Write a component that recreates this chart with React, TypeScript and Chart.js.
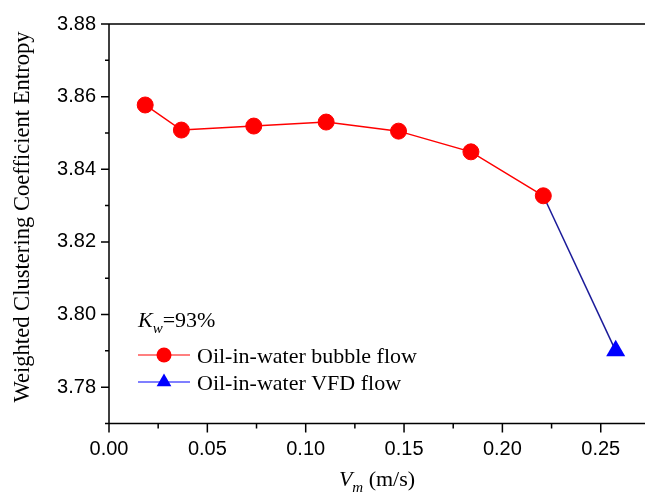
import React, { useEffect, useRef } from "react";
import { Chart, registerables } from "chart.js";

Chart.register(...registerables);

// Mixture velocity Vm (m/s) and weighted clustering coefficient entropy
const bubbleVm = [0.0184, 0.0368, 0.0736, 0.1104, 0.1472, 0.184, 0.2208];
const bubbleEntropy = [3.8577, 3.8508, 3.8519, 3.853, 3.8505, 3.8448, 3.8327];
const vfdVm = [0.2576];
const vfdEntropy = [3.79];

const xTicks = [0, 0.05, 0.1, 0.15, 0.2, 0.25];
const xMinorTicks = [0.025, 0.075, 0.125, 0.175, 0.225];
const yTicks = [3.78, 3.8, 3.82, 3.84, 3.86, 3.88];
const yMinorTicks = [3.77, 3.79, 3.81, 3.83, 3.85, 3.87];

const X_MIN = 0;
const X_MAX = 0.2725;
const Y_MIN = 3.77;
const Y_MAX = 3.88;

const bubbleLabel = "Oil-in-water bubble flow";
const vfdLabel = "Oil-in-water VFD flow";

const RED = "#ff0000";
const BLUE = "#0000ff";
const NAVY = "#1a1a99";
const SERIF = '"Liberation Serif", "Times New Roman", serif';
const SANS = '"Liberation Sans", Arial, sans-serif';

const framePlugin = {
  id: "frame",
  beforeDatasetsDraw(chart: any) {
    const { ctx, chartArea, scales } = chart;
    const { left, right, top, bottom } = chartArea;
    const x = scales.x;
    const y = scales.y;
    ctx.save();
    ctx.strokeStyle = "#000";
    ctx.lineWidth = 1.5;
    ctx.lineCap = "butt";
    ctx.beginPath();
    ctx.moveTo(left, top);
    ctx.lineTo(right, top);
    ctx.moveTo(left, top);
    ctx.lineTo(left, bottom);
    ctx.lineTo(right, bottom);
    for (const v of yTicks) {
      const py = y.getPixelForValue(v);
      ctx.moveTo(left - 8, py);
      ctx.lineTo(left, py);
    }
    for (const v of yMinorTicks) {
      const py = y.getPixelForValue(v);
      ctx.moveTo(left - 4, py);
      ctx.lineTo(left, py);
    }
    for (const v of xTicks) {
      const px = x.getPixelForValue(v);
      ctx.moveTo(px, bottom);
      ctx.lineTo(px, bottom + 9);
    }
    for (const v of xMinorTicks) {
      const px = x.getPixelForValue(v);
      ctx.moveTo(px, bottom);
      ctx.lineTo(px, bottom + 5);
    }
    ctx.stroke();
    ctx.restore();
  },
  afterDraw(chart: any) {
    const { ctx, chartArea } = chart;
    const { left, right } = chartArea;
    ctx.save();
    ctx.fillStyle = "#000";

    // y-axis title
    ctx.save();
    ctx.translate(23, 217);
    ctx.rotate(-Math.PI / 2);
    ctx.font = `22.6px ${SERIF}`;
    ctx.textAlign = "center";
    ctx.textBaseline = "middle";
    ctx.fillText("Weighted Clustering Coefficient Entropy", 0, 0);
    ctx.restore();

    // x-axis title: V_m (m/s)
    ctx.textAlign = "left";
    ctx.textBaseline = "alphabetic";
    const bigItalic = `italic 22px ${SERIF}`;
    const smallItalic = `italic 15px ${SERIF}`;
    const big = `22px ${SERIF}`;
    ctx.font = bigItalic;
    const wV = ctx.measureText("V").width;
    ctx.font = smallItalic;
    const wm = ctx.measureText("m").width;
    ctx.font = big;
    const wRest = ctx.measureText(" (m/s)").width;
    let tx = (left + right) / 2 - (wV + wm + wRest) / 2;
    const tb = 486;
    ctx.font = bigItalic;
    ctx.fillText("V", tx, tb);
    tx += wV;
    ctx.font = smallItalic;
    ctx.fillText("m", tx, tb + 6);
    tx += wm;
    ctx.font = big;
    ctx.fillText(" (m/s)", tx, tb);

    // legend header: K_w=93%
    let kx = 138;
    const kb = 327;
    ctx.font = bigItalic;
    ctx.fillText("K", kx, kb);
    kx += ctx.measureText("K").width;
    ctx.font = smallItalic;
    ctx.fillText("w", kx, kb + 6);
    kx += ctx.measureText("w").width;
    ctx.font = big;
    ctx.fillText("=93%", kx, kb);

    // legend entries
    const rows = [
      { y: 355, color: RED, lineColor: RED, shape: "circle", label: bubbleLabel },
      { y: 382, color: BLUE, lineColor: BLUE, shape: "triangle", label: vfdLabel },
    ];
    for (const r of rows) {
      ctx.strokeStyle = r.lineColor;
      ctx.lineWidth = 1.2;
      ctx.beginPath();
      ctx.moveTo(138, r.y);
      ctx.lineTo(190, r.y);
      ctx.stroke();
      ctx.fillStyle = r.color;
      ctx.beginPath();
      if (r.shape === "circle") {
        ctx.arc(164, r.y, 7.5, 0, Math.PI * 2);
      } else {
        const rr = 8.5;
        ctx.moveTo(164, r.y - rr);
        ctx.lineTo(164 + rr * 0.866, r.y + rr * 0.5);
        ctx.lineTo(164 - rr * 0.866, r.y + rr * 0.5);
        ctx.closePath();
      }
      ctx.fill();
      ctx.fillStyle = "#000";
      ctx.font = big;
      ctx.fillText(r.label, 197, r.y + 8);
    }
    ctx.restore();
  },
};

export default function App() {
  const canvasRef = useRef<HTMLCanvasElement | null>(null);

  useEffect(() => {
    const canvas = canvasRef.current;
    if (!canvas) return;
    const lastIdx = bubbleVm.length - 1;
    const bubblePoints = bubbleVm.map((v, i) => ({ x: v, y: bubbleEntropy[i] }));
    const vfdPoints = [
      { x: bubbleVm[lastIdx], y: bubbleEntropy[lastIdx] },
      ...vfdVm.map((v, i) => ({ x: v, y: vfdEntropy[i] })),
    ];

    const chart = new Chart(canvas, {
      type: "line",
      data: {
        datasets: [
          {
            label: bubbleLabel,
            data: bubblePoints,
            borderColor: RED,
            backgroundColor: RED,
            borderWidth: 1.5,
            pointStyle: "circle",
            pointRadius: 8,
            pointBorderWidth: 1,
            pointBackgroundColor: RED,
            pointBorderColor: RED,
            tension: 0,
          },
          {
            label: vfdLabel,
            data: vfdPoints,
            borderColor: NAVY,
            backgroundColor: BLUE,
            borderWidth: 1.5,
            pointStyle: "triangle",
            pointRadius: [0, 11],
            pointBorderWidth: 0,
            pointBackgroundColor: BLUE,
            pointBorderColor: BLUE,
            tension: 0,
          },
        ],
      },
      options: {
        responsive: false,
        animation: false,
        layout: { autoPadding: false, padding: { top: 24, right: 0, left: 0, bottom: 0 } },
        plugins: {
          legend: { display: false },
          tooltip: { enabled: false },
        },
        scales: {
          x: {
            type: "linear",
            min: X_MIN,
            max: X_MAX,
            grid: { display: false, drawTicks: false },
            border: { display: false },
            afterBuildTicks: (scale: any) => {
              scale.ticks = xTicks.map((v) => ({ value: v }));
            },
            afterFit: (scale: any) => {
              scale.height = 74.5;
              scale.paddingLeft = 0;
              scale.paddingRight = 0;
            },
            ticks: {
              padding: 14,
              color: "#000",
              font: { family: SANS, size: 20 },
              maxRotation: 0,
              callback: (v: any) => Number(v).toFixed(2),
            },
          },
          y: {
            type: "linear",
            min: Y_MIN,
            max: Y_MAX,
            grid: { display: false, drawTicks: false },
            border: { display: false },
            afterBuildTicks: (scale: any) => {
              scale.ticks = yTicks.map((v) => ({ value: v }));
            },
            afterFit: (scale: any) => {
              scale.width = 109;
              scale.paddingTop = 0;
              scale.paddingBottom = 0;
            },
            ticks: {
              padding: 13,
              color: "#000",
              font: { family: SANS, size: 20 },
              callback: (v: any) => Number(v).toFixed(2),
            },
          },
        },
      },
      plugins: [framePlugin],
    });
    return () => chart.destroy();
  }, []);

  return (
    <div style={{ position: "absolute", left: 0, top: 0, width: 645, height: 498, background: "#fff" }}>
      <canvas ref={canvasRef} width={645} height={498} style={{ display: "block" }} />
    </div>
  );
}
